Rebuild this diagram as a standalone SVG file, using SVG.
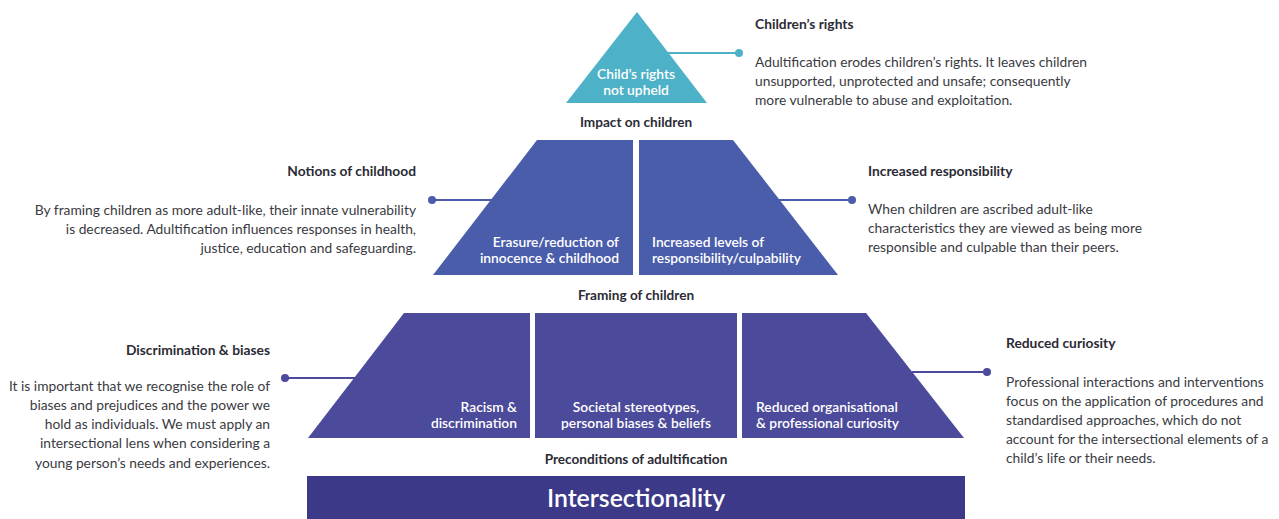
<svg xmlns="http://www.w3.org/2000/svg" width="1279" height="519" viewBox="0 0 1279 519">
<style>
.bg{fill:#ffffff}
.tri{fill:#4db2c7}
.mid{fill:#4a5dab}
.low{fill:#4b4a9b}
.base{fill:#3c3989}
.in{font-family:Lato,"Noto Sans",sans-serif;font-size:13.8px;fill:#ffffff;font-weight:600}
.lbl{font-family:Lato,"Noto Sans",sans-serif;font-size:13.6px;fill:#2b2b35;font-weight:700}
.h{font-family:Lato,"Noto Sans",sans-serif;font-size:13.8px;fill:#2b2b35;font-weight:700}
.b{font-family:Lato,"Noto Sans",sans-serif;font-size:13.8px;fill:#3a3a42}
.big{font-family:Lato,"Noto Sans",sans-serif;font-size:24.8px;fill:#ffffff;font-weight:600}
.ln{stroke-width:2;fill:none}
</style>
<rect class="bg" x="0" y="0" width="1279" height="519"/>
<g id="connectors">
  <line class="ln" x1="668" y1="53" x2="739" y2="53" stroke="#4db2c7"/>
  <circle cx="739" cy="53" r="4" fill="#4db2c7"/>
  <line class="ln" x1="432" y1="200" x2="492" y2="200" stroke="#4a5dab"/>
  <circle cx="432" cy="200" r="4" fill="#4a5dab"/>
  <line class="ln" x1="779" y1="200" x2="852" y2="200" stroke="#4a5dab"/>
  <circle cx="852" cy="200" r="4" fill="#4a5dab"/>
  <line class="ln" x1="285" y1="378" x2="355" y2="378" stroke="#4b4a9b"/>
  <circle cx="285" cy="378" r="4" fill="#4b4a9b"/>
  <line class="ln" x1="912" y1="372" x2="987" y2="372" stroke="#4b4a9b"/>
  <circle cx="987" cy="372" r="4" fill="#4b4a9b"/>
</g>
<g id="node-rights">
  <polygon class="tri" points="637,12 707,103 566,103"/>
  <text class="in" x="636" y="79" text-anchor="middle">Child’s rights</text>
  <text class="in" x="636" y="95" text-anchor="middle">not upheld</text>
</g>
<g id="label-impact"><text class="lbl" x="636" y="127" text-anchor="middle">Impact on children</text></g>
<g id="node-erasure">
  <polygon class="mid" points="537,140 633,140 633,275 433,275"/>
  <text class="in" x="619" y="247" text-anchor="end">Erasure/reduction of</text>
  <text class="in" x="619" y="263" text-anchor="end">innocence &amp; childhood</text>
</g>
<g id="node-responsibility">
  <polygon class="mid" points="639,140 733,140 838,275 639,275"/>
  <text class="in" x="652" y="247">Increased levels of</text>
  <text class="in" x="652" y="263">responsibility/culpability</text>
</g>
<g id="label-framing"><text class="lbl" x="636" y="300" text-anchor="middle">Framing of children</text></g>
<g id="node-racism">
  <polygon class="low" points="404,313 530,313 530,438 308,438"/>
  <text class="in" x="517" y="412" text-anchor="end">Racism &amp;</text>
  <text class="in" x="517" y="428" text-anchor="end">discrimination</text>
</g>
<g id="node-stereotypes">
  <rect class="low" x="535" y="313" width="202" height="125"/>
  <text class="in" x="636" y="412" text-anchor="middle">Societal stereotypes,</text>
  <text class="in" x="636" y="428" text-anchor="middle">personal biases &amp; beliefs</text>
</g>
<g id="node-curiosity">
  <polygon class="low" points="742,313 866,313 964,438 742,438"/>
  <text class="in" x="756" y="412">Reduced organisational</text>
  <text class="in" x="756" y="428">&amp; professional curiosity</text>
</g>
<g id="label-preconditions"><text class="lbl" x="636" y="464" text-anchor="middle">Preconditions of adultification</text></g>
<g id="node-intersectionality">
  <rect class="base" x="307" y="476" width="658" height="43"/>
  <text class="big" x="636" y="507" text-anchor="middle">Intersectionality</text>
</g>
<g id="note-rights">
  <text class="h" x="755" y="29">Children’s rights</text>
  <text class="b" x="755" y="67">Adultification erodes children’s rights. It leaves children</text>
  <text class="b" x="755" y="86">unsupported, unprotected and unsafe; consequently</text>
  <text class="b" x="755" y="105">more vulnerable to abuse and exploitation.</text>
</g>
<g id="note-childhood" text-anchor="end">
  <text class="h" x="416" y="176">Notions of childhood</text>
  <text class="b" x="416" y="215">By framing children as more adult-like, their innate vulnerability</text>
  <text class="b" x="416" y="234">is decreased. Adultification influences responses in health,</text>
  <text class="b" x="416" y="253">justice, education and safeguarding.</text>
</g>
<g id="note-responsibility">
  <text class="h" x="868" y="176">Increased responsibility</text>
  <text class="b" x="868" y="214">When children are ascribed adult-like</text>
  <text class="b" x="868" y="233">characteristics they are viewed as being more</text>
  <text class="b" x="868" y="252">responsible and culpable than their peers.</text>
</g>
<g id="note-biases" text-anchor="end">
  <text class="h" x="270" y="355">Discrimination &amp; biases</text>
  <text class="b" x="270" y="391">It is important that we recognise the role of</text>
  <text class="b" x="270" y="410">biases and prejudices and the power we</text>
  <text class="b" x="270" y="429">hold as individuals. We must apply an</text>
  <text class="b" x="270" y="448">intersectional lens when considering a</text>
  <text class="b" x="270" y="468">young person’s needs and experiences.</text>
</g>
<g id="note-curiosity">
  <text class="h" x="1006" y="348">Reduced curiosity</text>
  <text class="b" x="1006" y="387">Professional interactions and interventions</text>
  <text class="b" x="1006" y="406">focus on the application of procedures and</text>
  <text class="b" x="1006" y="425">standardised approaches, which do not</text>
  <text class="b" x="1006" y="444">account for the intersectional elements of a</text>
  <text class="b" x="1006" y="463">child’s life or their needs.</text>
</g>
</svg>
